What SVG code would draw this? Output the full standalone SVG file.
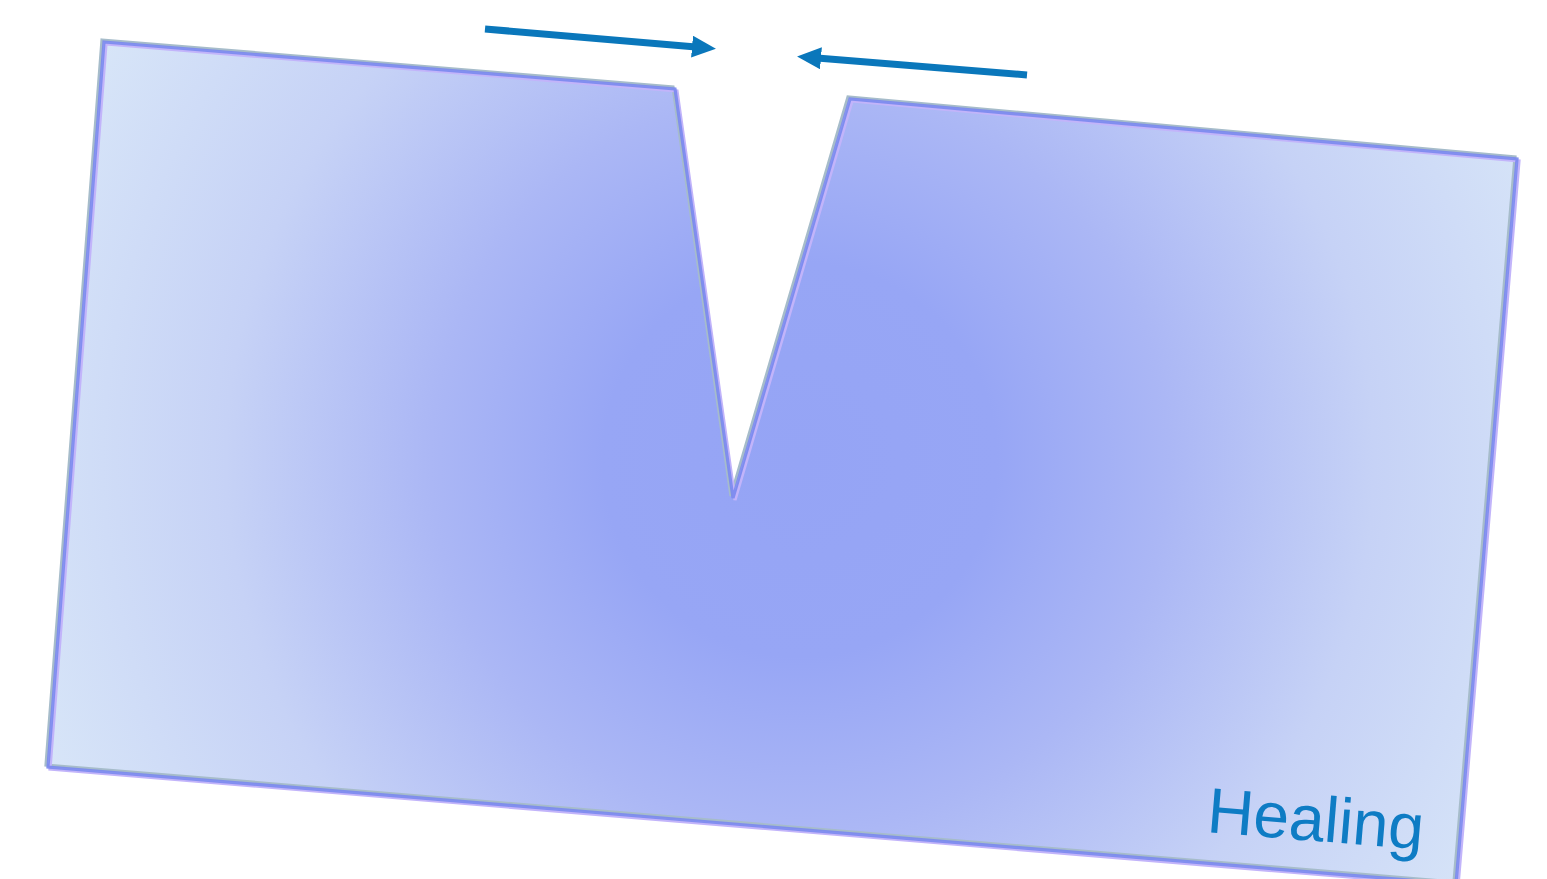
<svg xmlns="http://www.w3.org/2000/svg" width="1547" height="879" viewBox="0 0 1547 879">
<defs>
<radialGradient id="fillg" gradientUnits="userSpaceOnUse" cx="800" cy="460" r="820">
<stop offset="0" stop-color="#95a4f5"/>
<stop offset="0.24" stop-color="#97a6f5"/>
<stop offset="0.45" stop-color="#abb7f5"/>
<stop offset="0.7" stop-color="#c6d2f6"/>
<stop offset="1" stop-color="#d8e6f8"/>
</radialGradient>
<marker id="ah" markerWidth="24" markerHeight="22" refX="4" refY="11" orient="auto" markerUnits="userSpaceOnUse" viewBox="0 0 24 22">
<path d="M0,0 L24,11 L0,22 Z" fill="#0a77bb"/>
</marker>
<style>
.outline{fill:none;stroke-width:3.2;stroke-linejoin:miter}
.arrow{stroke:#0a77bb;stroke-width:7;fill:none}
</style>
</defs>
<g id="block">
<polygon points="104,42 675,89 733,498 850,99 1517,159 1456,884 48,767" fill="url(#fillg)"/>
<polygon class="outline" points="104,42 675,89 733,498 850,99 1517,159 1456,884 48,767" stroke="#a6bcca" transform="translate(-2,-2)"/>
<polygon class="outline" points="104,42 675,89 733,498 850,99 1517,159 1456,884 48,767" stroke="#c2b4fa" transform="translate(2,2)"/>
<polygon class="outline" points="104,42 675,89 733,498 850,99 1517,159 1456,884 48,767" stroke="#7a88ee" stroke-opacity="0.9"/>
</g>
<g id="label">
<text x="1206" y="832" transform="rotate(4.7 1206 832)" font-family="Liberation Sans, Arial, sans-serif" font-size="64" fill="#0e7cc4">Healing</text>
</g>
<g id="connectors">
<line class="arrow" x1="485" y1="29" x2="696" y2="47" marker-end="url(#ah)"/>
<line class="arrow" x1="1027" y1="75" x2="817" y2="58" marker-end="url(#ah)"/>
</g>
</svg>
